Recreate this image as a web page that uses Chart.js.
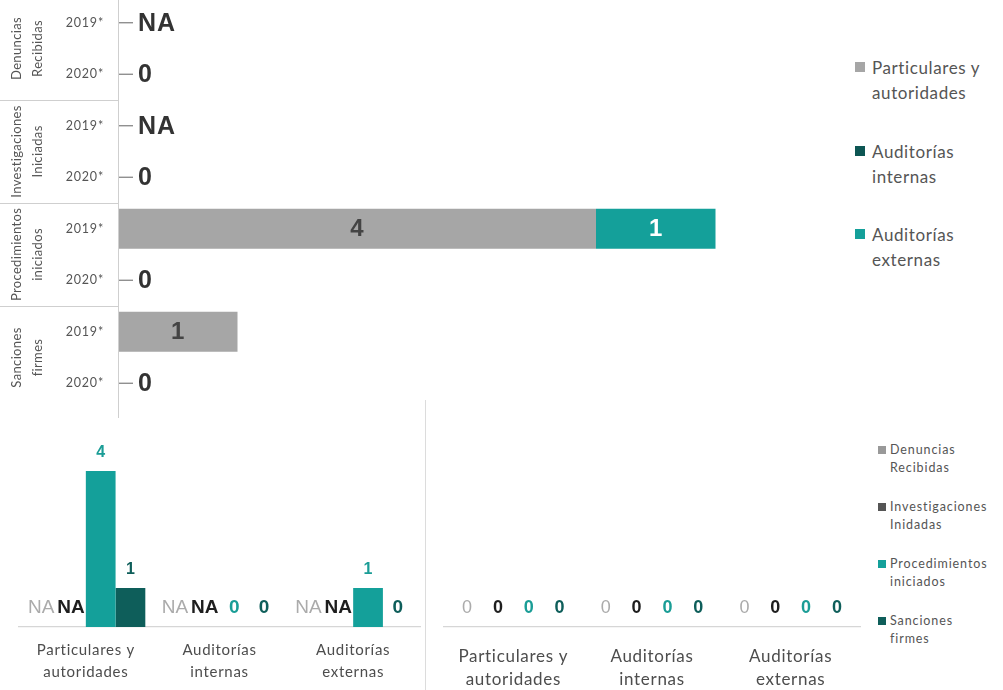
<!DOCTYPE html>
<html>
<head>
<meta charset="utf-8">
<script src="https://cdn.jsdelivr.net/npm/chart.js@4.4.0/dist/chart.umd.min.js"></script>
<style>
  html, body { margin: 0; padding: 0; background: #fff; width: 1003px; height: 690px; overflow: hidden; font-family: Lato, "Noto Sans", sans-serif; }
  .box { position: absolute; }
  #topBox { left: 0; top: -3px; width: 850px; height: 421px; }
  #blBox { left: 0; top: 418px; width: 425px; height: 272px; }
  #brBox { left: 426px; top: 418px; width: 445px; height: 272px; }
  #sep { position: absolute; left: 425px; top: 400px; width: 1px; height: 290px; background: #dcdcdc; }
  .legend { position: absolute; color: #555; }
  .legend .item { position: relative; }
  .legend .sw { position: absolute; left: 0; }
  #topLegend { left: 855px; top: 55px; font-size: 17px; line-height: 25px; letter-spacing: 0.6px; }
  #topLegend .item { padding-left: 17px; margin-bottom: 33.5px; }
  #topLegend .sw { width: 10px; height: 10px; top: 7px; }
  #botLegend { left: 878px; top: 441px; font-size: 12.5px; line-height: 17.5px; letter-spacing: 0.9px; }
  #botLegend .item { padding-left: 12px; margin-bottom: 22px; }
  #botLegend .sw { width: 8px; height: 8px; top: 5px; }
</style>
</head>
<body>
<div id="topBox" class="box"><canvas id="topChart"></canvas></div>
<div id="blBox" class="box"><canvas id="chart2019"></canvas></div>
<div id="brBox" class="box"><canvas id="chart2020"></canvas></div>
<div id="sep"></div>
<div id="topLegend" class="legend"></div>
<div id="botLegend" class="legend"></div>

<script>
// ---- Datos: resumen por etapa (filas 2019*/2020*) y origen ----
const topRows = ["2019*", "2020*", "2019*", "2020*", "2019*", "2020*", "2019*", "2020*"];
const topGroups = [["Denuncias", "Recibidas"], ["Investigaciones", "Iniciadas"], ["Procedimientos", "iniciados"], ["Sanciones", "firmes"]];
const topSeries = [["Particulares y", "autoridades"], ["Auditorías", "internas"], ["Auditorías", "externas"]];
// null = NA (no disponible)
const particulares = [null, 0, null, 0, 4, 0, 1, 0];
const auditoriasInternas = [null, 0, null, 0, 0, 0, 0, 0];
const auditoriasExternas = [null, 0, null, 0, 1, 0, 0, 0];

// ---- Datos: por origen, cada etapa como serie ----
const bottomCategories = [["Particulares y", "autoridades"], ["Auditorías", "internas"], ["Auditorías", "externas"]];
const bottomSeries = [["Denuncias", "Recibidas"], ["Investigaciones", "Inidadas"], ["Procedimientos", "iniciados"], ["Sanciones", "firmes"]];
const denuncias2019 = [null, null, null];
const investigaciones2019 = [null, null, null];
const procedimientos2019 = [4, 0, 1];
const sanciones2019 = [1, 0, 0];
const denuncias2020 = [0, 0, 0];
const investigaciones2020 = [0, 0, 0];
const procedimientos2020 = [0, 0, 0];
const sanciones2020 = [0, 0, 0];

const GRAY = "#a6a6a6", DARK = "#4a4a4a", TEAL = "#14a09a", DTEAL = "#0e5e5a";
const TEXT = "#555";

Chart.defaults.font.family = "Lato, 'Noto Sans', sans-serif";
Chart.defaults.color = TEXT;

const spacing = {
  id: "spacing",
  beforeDraw(chart) { chart.ctx.letterSpacing = chart.options.plugins.spacing.px; }
};

// ---------- gráfico superior: barras horizontales apiladas ----------
// Eje vertical agrupado: años por fila, etapa en vertical y separadores
const groupAxis = {
  id: "groupAxis",
  afterDraw(chart) {
    const { ctx, chartArea, scales: { y } } = chart;
    ctx.save();
    ctx.strokeStyle = "#cfcfcf"; ctx.lineWidth = 1;
    ctx.beginPath(); ctx.moveTo(chartArea.left + 0.5, 0); ctx.lineTo(chartArea.left + 0.5, chart.height); ctx.stroke();

    ctx.fillStyle = TEXT;
    ctx.letterSpacing = "0.8px";
    ctx.font = "12.5px Lato, sans-serif";
    ctx.textAlign = "right"; ctx.textBaseline = "middle";
    chart.data.labels.forEach((t, i) => ctx.fillText(t, chartArea.left - 14, y.getPixelForValue(i)));

    ctx.letterSpacing = "0.35px";
    topGroups.forEach((lines, g) => {
      const y0 = y.getPixelForValue(2 * g), y1 = y.getPixelForValue(2 * g + 1);
      const mid = (y0 + y1) / 2;
      if (g < topGroups.length - 1) {
        const sepY = Math.round((y1 + y.getPixelForValue(2 * g + 2)) / 2) + 0.5;
        ctx.beginPath(); ctx.moveTo(0, sepY); ctx.lineTo(chartArea.left, sepY); ctx.stroke();
      }
      ctx.save();
      ctx.translate(0, mid);
      ctx.rotate(-Math.PI / 2);
      ctx.font = "13px Lato, sans-serif";
      ctx.textAlign = "center"; ctx.textBaseline = "middle";
      lines.forEach((t, k) => ctx.fillText(t, 0, 17 + k * 21));
      ctx.restore();
    });
    ctx.restore();
  }
};

const topValueLabels = {
  id: "topValueLabels",
  afterDatasetsDraw(chart) {
    const { ctx, chartArea, scales: { y } } = chart;
    const sets = chart.data.datasets;
    ctx.save();
    ctx.textBaseline = "middle";
    chart.data.labels.forEach((_, i) => {
      const vals = sets.map(d => d.data[i]);
      const allNA = vals.every(v => v == null);
      const total = vals.reduce((a, v) => a + (v || 0), 0);
      const py = y.getPixelForValue(i);
      if (allNA || total === 0) {
        ctx.strokeStyle = "#7d7d7d"; ctx.lineWidth = 1.2;
        ctx.beginPath(); ctx.moveTo(chartArea.left + 1, py); ctx.lineTo(chartArea.left + 15, py); ctx.stroke();
        ctx.font = "bold 25px 'Liberation Sans', Arial, sans-serif";
        ctx.letterSpacing = "1px";
        ctx.fillStyle = "#333"; ctx.textAlign = "left";
        ctx.fillText(allNA ? "NA" : "0", chartArea.left + 20, py + 1);
      } else {
        sets.forEach((d, k) => {
          const v = d.data[i];
          if (!v) return;
          const el = chart.getDatasetMeta(k).data[i];
          ctx.font = "bold 24px 'Liberation Sans', Arial, sans-serif";
          ctx.letterSpacing = "0px";
          ctx.fillStyle = k === 0 ? "#444" : "#fff";
          ctx.textAlign = "center";
          ctx.fillText(String(v), (el.x + el.base) / 2, py + 1);
        });
      }
    });
    ctx.restore();
  }
};

const topChart = new Chart(document.getElementById("topChart"), {
  type: "bar",
  data: {
    labels: topRows,
    datasets: [
      { label: topSeries[0].join(" "), data: particulares, backgroundColor: GRAY },
      { label: topSeries[1].join(" "), data: auditoriasInternas, backgroundColor: DTEAL },
      { label: topSeries[2].join(" "), data: auditoriasExternas, backgroundColor: TEAL }
    ]
  },
  options: {
    indexAxis: "y",
    responsive: true,
    maintainAspectRatio: false,
    animation: false,
    layout: { padding: { left: 0, right: 15, top: 0, bottom: 9 } },
    datasets: { bar: { categoryPercentage: 1, barPercentage: 0.78 } },
    scales: {
      x: { stacked: true, min: 0, max: 6, display: false },
      y: {
        stacked: true,
        grid: { display: false, drawTicks: false },
        border: { display: false },
        ticks: { display: false },
        afterFit(s) { s.width = 118; }
      }
    },
    plugins: { legend: { display: false }, tooltip: { enabled: false }, spacing: { px: "0.8px" } }
  },
  plugins: [spacing, groupAxis, topValueLabels]
});

// ---------- gráficos inferiores: barras agrupadas por origen ----------
const barLabels = {
  id: "barLabels",
  afterDatasetsDraw(chart) {
    const { ctx } = chart;
    const styles = chart.options.plugins.barLabels.styles;
    ctx.save();
    ctx.textAlign = "center"; ctx.textBaseline = "alphabetic";
    ctx.letterSpacing = "0px";
    chart.data.datasets.forEach((d, k) => {
      const meta = chart.getDatasetMeta(k);
      d.data.forEach((v, i) => {
        const el = meta.data[i];
        const st = styles[k];
        const big = v == null || v === 0;
        ctx.font = `${st.weight} ${big ? chart.options.plugins.barLabels.size : 16}px 'Liberation Sans', Arial, sans-serif`;
        ctx.fillStyle = st.color;
        ctx.fillText(v == null ? "NA" : String(v), el.x, el.y - 14);
      });
    });
    ctx.restore();
  }
};

function groupedChart(id, series, padL, padR, tickSize, tickPad, lineH, labelSize) {
  return new Chart(document.getElementById(id), {
    type: "bar",
    data: {
      labels: bottomCategories,
      datasets: series.map((vals, k) => ({
        label: bottomSeries[k].join(" "),
        data: vals,
        backgroundColor: [GRAY, DARK, TEAL, DTEAL][k]
      }))
    },
    options: {
      responsive: true,
      maintainAspectRatio: false,
      animation: false,
      layout: { padding: { left: padL, right: padR, top: 14, bottom: 0 } },
      datasets: { bar: { categoryPercentage: 0.89, barPercentage: 1 } },
      scales: {
        x: {
          grid: { display: false, drawTicks: false },
          border: { display: true, color: "#d6d6d6", width: 1.2 },
          ticks: { color: "#4d4d4d", font: { size: tickSize, lineHeight: lineH }, padding: tickPad, maxRotation: 0, autoSkip: false },
          afterFit(s) { s.height = 63; }
        },
        y: { display: false, min: 0, max: 5 }
      },
      plugins: {
        legend: { display: false }, tooltip: { enabled: false },
        spacing: { px: "0.7px" },
        barLabels: {
          size: labelSize,
          styles: [
            { color: "#ababab", weight: "normal" },
            { color: "#1e1e1e", weight: "bold" },
            { color: "#1a9d96", weight: "bold" },
            { color: "#0e5e5a", weight: "bold" }
          ]
        }
      }
    },
    plugins: [spacing, barLabels]
  });
}

groupedChart("chart2019", [denuncias2019, investigaciones2019, procedimientos2019, sanciones2019], 19, 5, 15, 12, 1.47, 19);
const chart2020 = groupedChart("chart2020", [denuncias2020, investigaciones2020, procedimientos2020, sanciones2020], 18, 11, 17, 18, 1.36, 18);

// ---------- leyendas ----------
function buildLegend(el, chart, names, colors) {
  chart.data.datasets.forEach((d, k) => {
    const item = document.createElement("div");
    item.className = "item";
    const sw = document.createElement("span");
    sw.className = "sw";
    sw.style.background = colors[k];
    item.appendChild(sw);
    names[k].forEach((line, j) => {
      if (j) item.appendChild(document.createElement("br"));
      item.appendChild(document.createTextNode(line));
    });
    el.appendChild(item);
  });
}
buildLegend(document.getElementById("topLegend"), topChart, topSeries, [GRAY, "#0d5653", TEAL]);
buildLegend(document.getElementById("botLegend"), chart2020, bottomSeries, ["#999", "#555", TEAL, DTEAL]);
</script>
</body>
</html>
